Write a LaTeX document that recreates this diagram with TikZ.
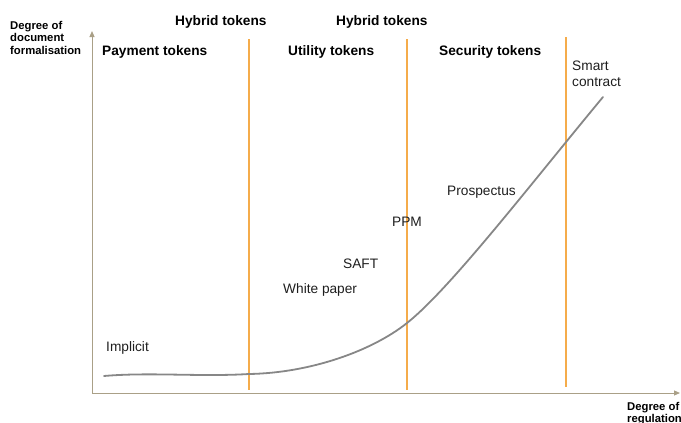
\documentclass[tikz,border=0pt]{standalone}
\usepackage{fontspec}
\setmainfont{Liberation Sans}
\usetikzlibrary{arrows.meta}
\definecolor{axiscol}{RGB}{170,160,135}
\definecolor{bandcol}{RGB}{245,172,75}
\definecolor{curvecol}{RGB}{135,135,135}
\definecolor{txt}{RGB}{30,30,30}
\tikzset{
  axis/.style={draw=axiscol, line width=1pt, -{Triangle[length=6pt,width=5pt]}},
  divider/.style={draw=bandcol, line width=1.1pt},
  curve/.style={draw=curvecol, line width=1.8pt},
  band/.style={font=\fontsize{13.7}{15}\selectfont\bfseries, text=black, inner sep=0pt, anchor=base west},
  axlabel/.style={font=\fontsize{11.3}{12.6}\selectfont\bfseries, text=black, inner sep=0pt, align=left},
  doc/.style={font=\fontsize{13.7}{15.5}\selectfont, text=txt, inner sep=0pt, anchor=base west, align=left}
}
\begin{document}
\begin{tikzpicture}[x=1pt,y=-1pt]
\useasboundingbox (0,0) rectangle (681,423);
% axes
\coordinate (o) at (92,393);
\coordinate (ytip) at (92,31);
\coordinate (xtip) at (680,393);
\draw[axis] (o) -- (ytip);
\draw[axis] (o) -- (xtip);
% dividers
\coordinate (d1t) at (249,39); \coordinate (d1b) at (249,390);
\coordinate (d2t) at (407,39); \coordinate (d2b) at (407,390);
\coordinate (d3t) at (566,37); \coordinate (d3b) at (566,387);
\draw[divider] (d1t) -- (d1b);
\draw[divider] (d2t) -- (d2b);
\draw[divider] (d3t) -- (d3b);
% curve
\coordinate (c0) at (104,376);
\coordinate (c1) at (249,374);
\coordinate (c2) at (407,323);
\coordinate (c3) at (603,97);
\draw[curve, line cap=round] (c0) .. controls (150,372) and (200,377) .. (c1)
  .. controls (310,373) and (372,351) .. (c2)
  .. controls (450,289) and (530,185) .. (c3);
% axis labels
\node[axlabel, anchor=north west] (ylab) at (10,21) {Degree of\\document\\formalisation};
\node[axlabel, anchor=north west] (xlab) at (627,402) {Degree of\\regulation};
% band labels
\node[band] (hyb1) at (175,26) {Hybrid tokens};
\node[band] (hyb2) at (336,26) {Hybrid tokens};
\node[band] (pay) at (102,55) {Payment tokens};
\node[band] (util) at (288,55) {Utility tokens};
\node[band] (sec) at (439,55) {Security tokens};
% document labels
\node[doc, anchor=north west] (smart) at (572,61) {Smart\\contract};
\node[doc] (prosp) at (447,195) {Prospectus};
\node[doc] (ppm) at (392,226) {PPM};
\node[doc] (saft) at (343,268) {SAFT};
\node[doc] (wp) at (283,293) {White paper};
\node[doc] (impl) at (106,351) {Implicit};
\end{tikzpicture}
\end{document}
